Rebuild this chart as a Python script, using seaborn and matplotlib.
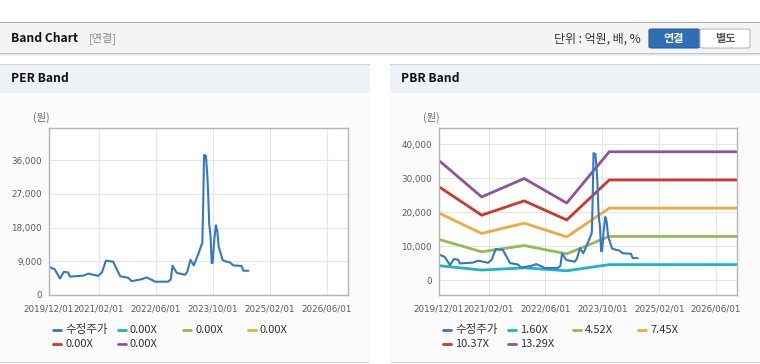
import pandas as pd
import matplotlib
matplotlib.use("Agg")
import matplotlib.pyplot as plt
import matplotlib.dates as mdates
from matplotlib.patches import Rectangle, FancyBboxPatch
from matplotlib.lines import Line2D
import seaborn as sns

#price series (수정주가)
price_dates = ["2019-12-03", "2020-01-20", "2020-03-04", "2020-04-07", "2020-05-13", "2020-05-28",
               "2020-09-18", "2020-11-01", "2021-01-25", "2021-02-25", "2021-04-01", "2021-06-01",
               "2021-08-01", "2021-10-07", "2021-11-07", "2022-02-01", "2022-03-14", "2022-05-07",
               "2022-05-25", "2022-09-13", "2022-10-07", "2022-10-22", "2022-11-28", "2023-02-07",
               "2023-02-25", "2023-03-25", "2023-04-22", "2023-05-28", "2023-07-04", "2023-07-10",
               "2023-07-19", "2023-08-04", "2023-08-16", "2023-08-22", "2023-09-01", "2023-09-13",
               "2023-09-22", "2023-10-01", "2023-10-13", "2023-10-28", "2023-11-09", "2023-11-21",
               "2023-12-25", "2024-01-28", "2024-02-25", "2024-03-25", "2024-06-04", "2024-06-19",
               "2024-08-01"]
price_values = [7500, 6800, 4400, 6200, 6000, 4900,
                5150, 5700, 5100, 6000, 9150, 8900,
                5000, 4600, 3700, 4200, 4700, 3900,
                3550, 3550, 4100, 7800, 5900, 5400,
                6200, 9400, 7900, 10700, 13900, 21500,
                37400, 37100, 32000, 28000, 19000, 15500,
                8500, 8600, 14300, 18600, 17100, 12900,
                9300, 8900, 8700, 7900, 7750, 6480,
                6450]

#band base points (yearly), last one held to the end of the axis
band_dates = ["2019-12-01", "2020-12-01", "2021-12-01", "2022-12-01", "2023-12-01", "2026-12-01"]
pbr_bps = [2650, 1843, 2250, 1708, 2844, 2844]
pbr_multiples = [1.60, 4.52, 7.45, 10.37, 13.29]
per_eps = [0, 0, 0, 0, 0, 0]
per_multiples = [0.00, 0.00, 0.00, 0.00, 0.00]

tick_dates = ["2019-12-01", "2021-02-01", "2022-06-01", "2023-10-01", "2025-02-01", "2026-06-01"]
x_start, x_end = "2019-12-01", "2026-12-01"

price_color = "#3577c6"
band_colors = ["#1db3c9", "#93bb52", "#f0aa3c", "#cf352c", "#8e53a0"]

W, H = 760, 364
sns.set_style("white")
plt.rcParams["font.family"] = ["Noto Sans CJK KR", "DejaVu Sans"]

fig = plt.figure(figsize=(W / 100, H / 100), dpi=100)
fig.patch.set_facecolor("white")


def px_rect(x, y, w, h, **kw):
    #rectangle given in pixels from the top-left corner, kept under the axes
    r = Rectangle((x / W, 1 - (y + h) / H), w / W, h / H, transform=fig.transFigure, zorder=-5, **kw)
    fig.add_artist(r)
    return r


def px_text(x, y, s, **kw):
    fig.text(x / W, 1 - y / H, s, **kw)


#top header bar
px_rect(0, 22, W, 31, fc="#f4f4f4", ec="none")
px_rect(0, 22, W, 1, fc="#b0b0b0", ec="none")
px_rect(0, 53, W, 1, fc="#c4c4c4", ec="none")
px_rect(0, 54, W, 1, fc="#e4e4e4", ec="none")
px_rect(0, 55, W, 1, fc="#f2f2f2", ec="none")
px_text(11, 38, "Band Chart", fontsize=8.7, fontweight="bold", color="#111111", va="center")
px_text(89, 38, "[연결]", fontsize=8, color="#8a8a8a", va="center")
px_text(641, 39, "단위 : 억원, 배, %", fontsize=8.6, color="#333333", va="center", ha="right")
btn1 = FancyBboxPatch((649 / W, 1 - 48 / H), 51 / W, 19 / H, boxstyle="round,pad=0,rounding_size=0.004",
                      transform=fig.transFigure, fc="#2f6db4", ec="#2a62a3", lw=0.8)
fig.add_artist(btn1)
btn2 = FancyBboxPatch((700 / W, 1 - 48 / H), 50 / W, 19 / H, boxstyle="round,pad=0,rounding_size=0.004",
                      transform=fig.transFigure, fc="white", ec="#bbbbbb", lw=0.8)
fig.add_artist(btn2)
px_text(674, 38.5, "연결", fontsize=8, fontweight="bold", color="white", ha="center", va="center")
px_text(725, 38.5, "별도", fontsize=8, fontweight="bold", color="#555555", ha="center", va="center")


def draw_panel(x0, title):
    px_rect(x0, 93, 370, 270, fc="#fbfbfb", ec="none")
    px_rect(x0, 64, 370, 29, fc="#eef2f7", ec="none")
    px_rect(x0, 64, 370, 1, fc="#d4d4d4", ec="none")
    px_rect(x0, 362, 370, 1, fc="#d8d8d8", ec="none")
    px_text(x0 + 11, 79, title, fontsize=8.7, fontweight="bold", color="#111111", va="center")


draw_panel(0, "PER Band")
draw_panel(390, "PBR Band")

price_df = pd.DataFrame({"date": pd.to_datetime(price_dates), "value": price_values})


def band_frame(base, multiples):
    rows = []
    for m in multiples:
        for d, b in zip(band_dates, base):
            rows.append({"date": pd.to_datetime(d), "value": b * m, "label": f"{m:.2f}X"})
    return pd.DataFrame(rows)


def draw_chart(ax_px, base, multiples, ylim, yticks):
    x0, y0, x1, y1 = ax_px
    ax = fig.add_axes([x0 / W, 1 - y1 / H, (x1 - x0) / W, (y1 - y0) / H])
    ax.set_facecolor("white")
    bands = band_frame(base, multiples)
    for i, m in enumerate(multiples):
        #0.00X bands sit on the axis floor and show nothing in the original
        if m == 0:
            continue
        sub = bands.iloc[i * len(band_dates):(i + 1) * len(band_dates)]
        sns.lineplot(data=sub, x="date", y="value", color=band_colors[i], linewidth=2, ax=ax, zorder=2)
    sns.lineplot(data=price_df, x="date", y="value", color=price_color, linewidth=1.5, ax=ax, zorder=3)
    ax.set_xlim(pd.to_datetime(x_start), pd.to_datetime(x_end))
    ax.set_ylim(*ylim)
    ax.set_yticks(yticks)
    ax.set_yticklabels([f"{v:,}" for v in yticks])
    ax.set_xticks(pd.to_datetime(tick_dates))
    ax.xaxis.set_major_formatter(mdates.DateFormatter("%Y/%m/%d"))
    ax.set_xlabel("")
    ax.set_ylabel("")
    ax.grid(True, color="#e6e6e6", linewidth=0.8)
    ax.set_axisbelow(True)
    for s in ax.spines.values():
        s.set_color("#b4b4b4")
        s.set_linewidth(1)
        s.set_zorder(5)
    ax.tick_params(axis="both", length=3, width=0.8, color="#aaaaaa", labelsize=6.3,
                   labelcolor="#5a5a5a", pad=2, direction="out")
    ax.tick_params(axis="x", pad=4)
    for lab in ax.get_xticklabels() + ax.get_yticklabels():
        lab.set_family("DejaVu Sans")
    return ax


draw_chart((49, 128, 348, 295), per_eps, per_multiples, (0, 44550), [0, 9000, 18000, 27000, 36000])
px_text(33, 117, "(원)", fontsize=7.5, color="#666666", va="center")

draw_chart((439, 128, 737, 295), pbr_bps, pbr_multiples, (-4400, 44800), [0, 10000, 20000, 30000, 40000])
px_text(423, 117, "(원)", fontsize=7.5, color="#666666", va="center")


def draw_legend(x0, multiples):
    labels = ["수정주가"] + [f"{m:.2f}X" for m in multiples]
    colors = [price_color] + band_colors
    for i, (lab, c) in enumerate(zip(labels, colors)):
        col, row = i % 4, i // 4
        x = x0 + col * 65
        y = 330 + row * 14
        fig.add_artist(Line2D([x / W, (x + 8) / W], [1 - y / H, 1 - y / H], color=c, lw=2,
                              transform=fig.transFigure))
        px_text(x + 12, y, lab, fontsize=8.3 if i == 0 else 8, color="#333333", va="center")


draw_legend(53, per_multiples)
draw_legend(443, pbr_multiples)

fig.savefig("out.png", dpi=100, facecolor="white")
